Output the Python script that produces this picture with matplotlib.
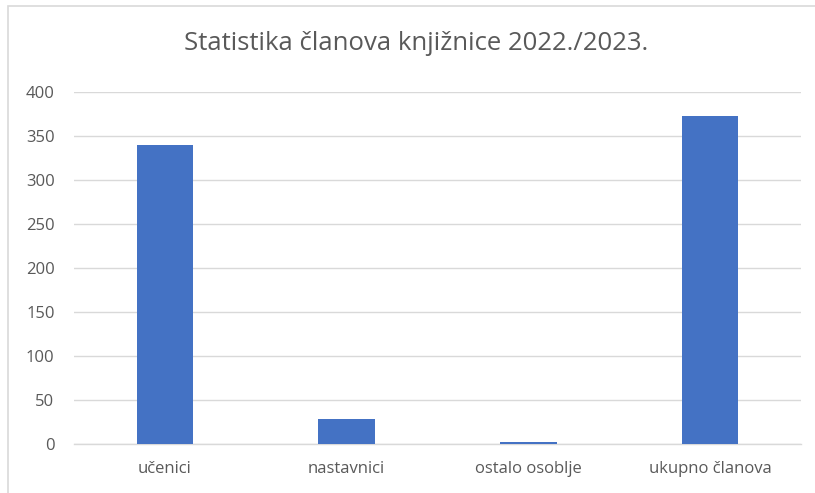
import matplotlib
matplotlib.use("Agg")
import matplotlib.pyplot as plt
from matplotlib.patches import Rectangle

categories = ["učenici", "nastavnici", "ostalo osoblje", "ukupno članova"]
values = [339, 29, 3, 372]
yticks = [0, 50, 100, 150, 200, 250, 300, 350, 400]
title = "Statistika članova knjižnice 2022./2023."

plt.rcParams['font.family'] = ['Open Sans', 'DejaVu Sans']

W, H = 815, 493
fig = plt.figure(figsize=(W/100, H/100), dpi=100)
fig.patch.set_facecolor('white')

# outer chart border (partially cut off on right/bottom)
fig.patches.append(Rectangle((8/W, -0.1), 1.2, 1 - 6.5/H + 0.1, transform=fig.transFigure,
                             fill=False, edgecolor='#d9d9d9', linewidth=1.2))

left, right = 74/W, 801/W
bottom, top = (H-444.3)/H, (H-91.7)/H
ax = fig.add_axes([left, bottom, right-left, top-bottom])

x = range(len(categories))
ax.bar(x, values, width=0.31, color='#4472c4', zorder=3)
ax.set_xlim(-0.5, len(categories)-0.5)
ax.set_ylim(0, 400)
ax.set_yticks(yticks)
ax.set_xticks(list(x))
ax.set_xticklabels(categories)
ax.grid(axis='y', color='#d9d9d9', linewidth=1, zorder=0)
for s in ['top', 'right', 'left']:
    ax.spines[s].set_visible(False)
ax.spines['bottom'].set_color('#d9d9d9')
ax.spines['bottom'].set_linewidth(1)
ax.tick_params(axis='both', length=0, colors='#595959', labelsize=12)
ax.tick_params(axis='y', pad=14)
ax.tick_params(axis='x', pad=12)

fig.text(0.51, (H-44)/H, title, ha='center', va='center', fontsize=18.5, color='#595959')

fig.savefig('out.png', dpi=100, facecolor='white')
